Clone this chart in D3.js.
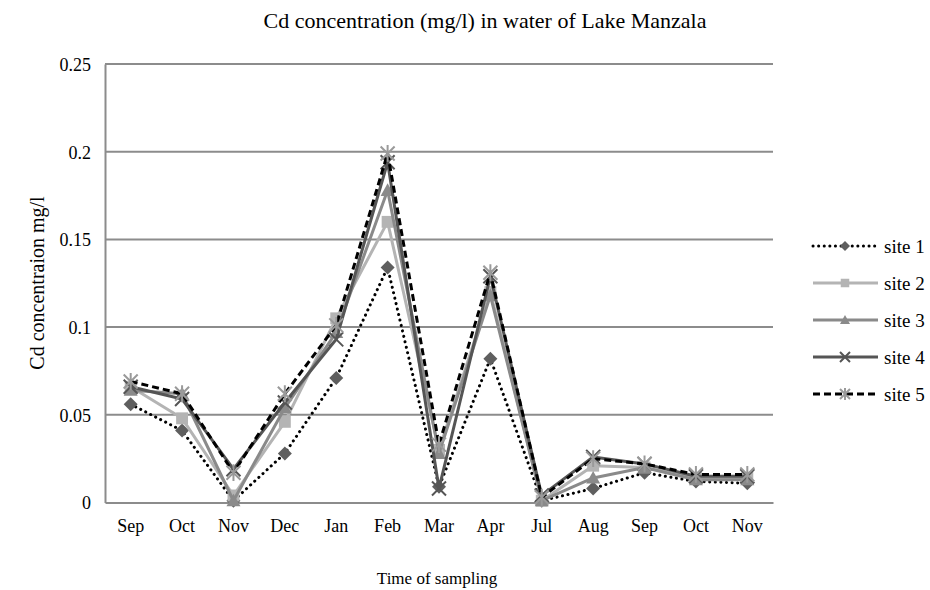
<!DOCTYPE html>
<html>
<head>
<meta charset="utf-8">
<script src="https://cdn.jsdelivr.net/npm/d3@7"></script>
<style>
  body { margin: 0; background: #fff; }
  text { font-family: "Liberation Serif", "Times New Roman", serif; fill: #000; }
</style>
</head>
<body>
<svg id="chart" width="930" height="590"></svg>
<script>
// data
var months = ["Sep", "Oct", "Nov", "Dec", "Jan", "Feb", "Mar", "Apr", "Jul", "Aug", "Sep", "Oct", "Nov"];
var site1 = [0.056, 0.041, 0.001, 0.028, 0.071, 0.134, 0.009, 0.082, 0.001, 0.008, 0.017, 0.012, 0.011];
var site2 = [0.066, 0.048, 0.004, 0.046, 0.105, 0.160, 0.030, 0.120, 0.001, 0.021, 0.020, 0.014, 0.014];
var site3 = [0.064, 0.062, 0.001, 0.054, 0.097, 0.178, 0.028, 0.118, 0.001, 0.014, 0.020, 0.013, 0.013];
var site4 = [0.066, 0.059, 0.019, 0.057, 0.093, 0.194, 0.008, 0.129, 0.004, 0.026, 0.022, 0.015, 0.015];
var site5 = [0.069, 0.062, 0.017, 0.062, 0.101, 0.199, 0.033, 0.131, 0.003, 0.025, 0.022, 0.016, 0.016];
var siteNames = ["site 1", "site 2", "site 3", "site 4", "site 5"];
var yTicks = [0, 0.05, 0.1, 0.15, 0.2, 0.25];

var series = [
  { name: siteNames[0], values: site1, line: "#000", width: 3, dash: "0.1,5.5", cap: "round", marker: "diamond", mcolor: "#5f5f5f" },
  { name: siteNames[1], values: site2, line: "#b4b4b4", width: 3, dash: null, cap: "butt", marker: "square", mcolor: "#b4b4b4" },
  { name: siteNames[2], values: site3, line: "#8a8a8a", width: 3, dash: null, cap: "butt", marker: "triangle", mcolor: "#8a8a8a" },
  { name: siteNames[3], values: site4, line: "#555", width: 3, dash: null, cap: "butt", marker: "cross", mcolor: "#555" },
  { name: siteNames[4], values: site5, line: "#000", width: 3, dash: "7,4", cap: "butt", marker: "star", mcolor: "#9a9a9a" }
];

var svg = d3.select("#chart");
var margin = { left: 105, right: 157, top: 64, bottom: 87 };
var W = 930, H = 590;

var x = d3.scaleBand().domain(d3.range(months.length)).range([margin.left, W - margin.right]);
var y = d3.scaleLinear().domain([0, 0.25]).range([H - margin.bottom - 0.5, margin.top]);
var cx = function (i) { return x(i) + x.bandwidth() / 2; };

// title
svg.append("text").attr("x", 485).attr("y", 28).attr("text-anchor", "middle")
  .style("font-size", "22px").text("Cd concentration (mg/l) in water of Lake Manzala");

// gridlines
svg.append("g").selectAll("line").data(yTicks.slice(1)).join("line")
  .attr("x1", margin.left).attr("x2", W - margin.right)
  .attr("y1", function (d) { return y(d); }).attr("y2", function (d) { return y(d); })
  .attr("stroke", "#8c8c8c").attr("stroke-width", 2);

// y axis
var yAxis = svg.append("g").attr("transform", "translate(" + margin.left + ",0)")
  .call(d3.axisLeft(y).tickValues(yTicks).tickSize(0).tickPadding(14).tickFormat(function (d) { return d3.format("")(+d.toFixed(2)); }));
yAxis.select(".domain").attr("stroke", "#8c8c8c").attr("stroke-width", 2);
yAxis.selectAll("text").style("font-size", "18px").attr("dy", "0.35em");

// x axis
var xAxis = svg.append("g").attr("transform", "translate(0," + y(0) + ")")
  .call(d3.axisBottom(x).tickSize(0).tickPadding(17).tickFormat(function (i) { return months[i]; }));
xAxis.select(".domain").attr("stroke", "#8c8c8c").attr("stroke-width", 2);
xAxis.selectAll("text").style("font-size", "18px");

// axis titles
svg.append("text").attr("transform", "translate(44,283) rotate(-90)").attr("text-anchor", "middle")
  .style("font-size", "20px").text("Cd concentraion mg/l");
svg.append("text").attr("x", 437).attr("y", 584).attr("text-anchor", "middle")
  .style("font-size", "17px").text("Time of sampling");

function drawMarker(g, type, color, size) {
  var s = size;
  if (type === "diamond") {
    g.append("path").attr("d", "M0," + (-s) + "L" + s + ",0L0," + s + "L" + (-s) + ",0Z").attr("fill", color);
  } else if (type === "square") {
    g.append("rect").attr("x", -s * 0.85).attr("y", -s * 0.85).attr("width", s * 1.7).attr("height", s * 1.7).attr("fill", color);
  } else if (type === "triangle") {
    g.append("path").attr("d", "M0," + (-s) + "L" + s + "," + (s * 0.8) + "L" + (-s) + "," + (s * 0.8) + "Z").attr("fill", color);
  } else if (type === "cross") {
    g.append("path").attr("d", "M" + (-s) + "," + (-s) + "L" + s + "," + s + "M" + (-s) + "," + s + "L" + s + "," + (-s))
      .attr("stroke", color).attr("stroke-width", 2).attr("fill", "none");
  } else if (type === "star") {
    g.append("path").attr("d", "M" + (-s) + "," + (-s) + "L" + s + "," + s + "M" + (-s) + "," + s + "L" + s + "," + (-s) + "M0," + (-s * 1.2) + "L0," + (s * 1.2))
      .attr("stroke", color).attr("stroke-width", 2).attr("fill", "none");
  }
}

var line = d3.line().x(function (d, i) { return cx(i); }).y(function (d) { return y(d); });

series.forEach(function (s) {
  svg.append("path").datum(s.values).attr("d", line)
    .attr("fill", "none").attr("stroke", s.line).attr("stroke-width", s.width)
    .attr("stroke-dasharray", s.dash).attr("stroke-linecap", s.cap).attr("stroke-linejoin", "round");
  s.values.forEach(function (v, i) {
    var g = svg.append("g").attr("transform", "translate(" + cx(i) + "," + y(v) + ")");
    drawMarker(g, s.marker, s.mcolor, 7);
  });
});

// legend
var legend = svg.append("g");
series.forEach(function (s, k) {
  var ly = 246 + k * 37;
  var g = legend.append("g").attr("transform", "translate(0," + ly + ")");
  g.append("line").attr("x1", 813).attr("x2", 878).attr("y1", 0).attr("y2", 0)
    .attr("stroke", s.line).attr("stroke-width", s.width).attr("stroke-dasharray", s.dash).attr("stroke-linecap", s.cap);
  var m = g.append("g").attr("transform", "translate(845,0)");
  drawMarker(m, s.marker, s.mcolor, 5);
  g.append("text").attr("x", 884).attr("y", 0).attr("dy", "0.35em").style("font-size", "19px").text(s.name);
});
</script>
</body>
</html>
